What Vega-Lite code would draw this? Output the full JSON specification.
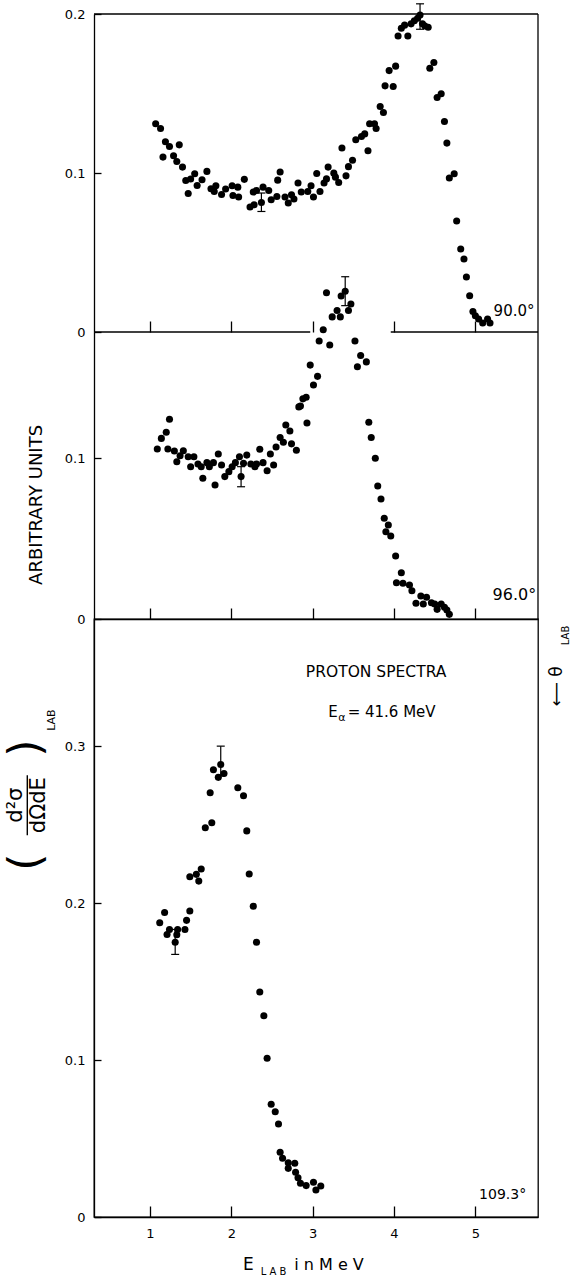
{
  "$schema": "https://vega.github.io/schema/vega-lite/v6.json",
  "background": "white",
  "padding": 0,
  "autosize": {"type": "pad"},
  "spacing": 0,
  "bounds": "flush",
  "config": {
    "view": {"stroke": null},
    "axis": {"grid": false, "domainColor": "black", "tickColor": "black", "labelColor": "black", "labelFont": "DejaVu Sans", "labelFontSize": 13, "labelFlush": false, "labelOverlap": false, "domainWidth": 1.3, "tickWidth": 1.3},
    "text": {"font": "DejaVu Sans", "color": "black"}
  },
  "datasets": {
    "one": [{}],
    "top": [
      {"E":1.07,"v":0.131},{"E":1.13,"v":0.128},{"E":1.16,"v":0.110},{"E":1.19,"v":0.1196},{"E":1.24,"v":0.1167},{"E":1.29,"v":0.1108},{"E":1.33,"v":0.1072},{"E":1.36,"v":0.1177},{"E":1.40,"v":0.1037},{"E":1.44,"v":0.0953},{"E":1.47,"v":0.0871},{"E":1.50,"v":0.0962},{"E":1.55,"v":0.0995},{"E":1.58,"v":0.0921},{"E":1.64,"v":0.0957},{"E":1.70,"v":0.101},{"E":1.75,"v":0.0901},{"E":1.79,"v":0.0884},{"E":1.81,"v":0.0920},{"E":1.88,"v":0.0865},{"E":1.93,"v":0.0899},{"E":2.01,"v":0.0920},{"E":2.02,"v":0.0859},{"E":2.08,"v":0.0911},{"E":2.09,"v":0.0849},{"E":2.16,"v":0.0960},{"E":2.23,"v":0.0786},{"E":2.27,"v":0.0880},{"E":2.28,"v":0.0800},{"E":2.31,"v":0.0890},{"E":2.37,"v":0.0815},{"E":2.39,"v":0.0911},{"E":2.46,"v":0.089},{"E":2.49,"v":0.0832},{"E":2.56,"v":0.0852},{"E":2.57,"v":0.0955},{"E":2.60,"v":0.1006},{"E":2.66,"v":0.0849},{"E":2.70,"v":0.0811},{"E":2.74,"v":0.0863},{"E":2.77,"v":0.0836},{"E":2.82,"v":0.0937},{"E":2.86,"v":0.088},{"E":2.94,"v":0.0884},{"E":2.98,"v":0.092},{"E":3.01,"v":0.0849},{"E":3.05,"v":0.0997},{"E":3.09,"v":0.0884},{"E":3.14,"v":0.0937},{"E":3.17,"v":0.0963},{"E":3.19,"v":0.1037},{"E":3.26,"v":0.0999},{"E":3.28,"v":0.0974},{"E":3.32,"v":0.094},{"E":3.36,"v":0.1157},{"E":3.41,"v":0.0982},{"E":3.44,"v":0.104},{"E":3.49,"v":0.108},{"E":3.53,"v":0.1209},{"E":3.60,"v":0.123},{"E":3.64,"v":0.1246},{"E":3.68,"v":0.114},{"E":3.70,"v":0.131},{"E":3.76,"v":0.131},{"E":3.78,"v":0.128},{"E":3.83,"v":0.1418},{"E":3.87,"v":0.138},{"E":3.89,"v":0.1548},{"E":3.94,"v":0.1644},{"E":3.99,"v":0.1544},{"E":4.02,"v":0.1672},{"E":4.05,"v":0.1862},{"E":4.09,"v":0.191},{"E":4.13,"v":0.193},{"E":4.17,"v":0.1862},{"E":4.21,"v":0.1938},{"E":4.25,"v":0.1958},{"E":4.29,"v":0.1973},{"E":4.32,"v":0.1994},{"E":4.35,"v":0.1938},{"E":4.38,"v":0.1925},{"E":4.42,"v":0.1917},{"E":4.44,"v":0.1659},{"E":4.49,"v":0.1695},{"E":4.53,"v":0.1475},{"E":4.58,"v":0.1498},{"E":4.62,"v":0.1324},{"E":4.65,"v":0.1188},{"E":4.68,"v":0.0968},{"E":4.74,"v":0.0995},{"E":4.77,"v":0.0698},{"E":4.82,"v":0.0522},{"E":4.86,"v":0.0459},{"E":4.89,"v":0.0346},{"E":4.93,"v":0.0228},{"E":4.97,"v":0.0129},{"E":5.00,"v":0.0102},{"E":5.04,"v":0.0082},{"E":5.09,"v":0.0057},{"E":5.15,"v":0.0082},{"E":5.18,"v":0.0057}
    ],
    "mid": [
      {"E":1.09,"v":0.1058},{"E":1.14,"v":0.1124},{"E":1.20,"v":0.1162},{"E":1.24,"v":0.1243},{"E":1.22,"v":0.1058},{"E":1.30,"v":0.1045},{"E":1.33,"v":0.0979},{"E":1.37,"v":0.1016},{"E":1.41,"v":0.1047},{"E":1.47,"v":0.101},{"E":1.50,"v":0.0948},{"E":1.54,"v":0.101},{"E":1.59,"v":0.0965},{"E":1.63,"v":0.0948},{"E":1.65,"v":0.0876},{"E":1.70,"v":0.0973},{"E":1.73,"v":0.0948},{"E":1.78,"v":0.0973},{"E":1.80,"v":0.0834},{"E":1.84,"v":0.1027},{"E":1.88,"v":0.0958},{"E":1.92,"v":0.0886},{"E":1.97,"v":0.0917},{"E":2.01,"v":0.0948},{"E":2.05,"v":0.0973},{"E":2.10,"v":0.101},{"E":2.12,"v":0.0886},{"E":2.15,"v":0.0969},{"E":2.19,"v":0.102},{"E":2.24,"v":0.0965},{"E":2.29,"v":0.0948},{"E":2.31,"v":0.0965},{"E":2.35,"v":0.1056},{"E":2.39,"v":0.0973},{"E":2.44,"v":0.0923},{"E":2.48,"v":0.1027},{"E":2.52,"v":0.0958},{"E":2.55,"v":0.107},{"E":2.60,"v":0.113},{"E":2.64,"v":0.110},{"E":2.67,"v":0.1207},{"E":2.72,"v":0.117},{"E":2.74,"v":0.109},{"E":2.80,"v":0.105},{"E":2.83,"v":0.132},{"E":2.85,"v":0.1325},{"E":2.88,"v":0.137},{"E":2.92,"v":0.138},{"E":2.93,"v":0.122},{"E":2.97,"v":0.158},{"E":3.01,"v":0.1456},{"E":3.06,"v":0.151},{"E":3.08,"v":0.173},{"E":3.13,"v":0.180},{"E":3.17,"v":0.203},{"E":3.21,"v":0.1705},{"E":3.24,"v":0.188},{"E":3.30,"v":0.192},{"E":3.34,"v":0.188},{"E":3.35,"v":0.201},{"E":3.40,"v":0.204},{"E":3.44,"v":0.192},{"E":3.47,"v":0.196},{"E":3.52,"v":0.173},{"E":3.55,"v":0.157},{"E":3.59,"v":0.164},{"E":3.66,"v":0.160},{"E":3.69,"v":0.1224},{"E":3.72,"v":0.113},{"E":3.77,"v":0.100},{"E":3.80,"v":0.0828},{"E":3.84,"v":0.0747},{"E":3.88,"v":0.0627},{"E":3.90,"v":0.0543},{"E":3.93,"v":0.0585},{"E":3.96,"v":0.0516},{"E":4.02,"v":0.0392},{"E":4.03,"v":0.0226},{"E":4.09,"v":0.0288},{"E":4.11,"v":0.0222},{"E":4.19,"v":0.0212},{"E":4.22,"v":0.0176},{"E":4.27,"v":0.0098},{"E":4.33,"v":0.0143},{"E":4.36,"v":0.0093},{"E":4.40,"v":0.0135},{"E":4.46,"v":0.0101},{"E":4.50,"v":0.0093},{"E":4.53,"v":0.006},{"E":4.58,"v":0.0093},{"E":4.62,"v":0.0073},{"E":4.65,"v":0.0056},{"E":4.68,"v":0.0029}
    ],
    "bot": [
      {"E":1.12,"v":0.1875},{"E":1.18,"v":0.194},{"E":1.21,"v":0.180},{"E":1.24,"v":0.1832},{"E":1.31,"v":0.175},{"E":1.33,"v":0.1798},{"E":1.34,"v":0.1832},{"E":1.43,"v":0.1832},{"E":1.45,"v":0.189},{"E":1.49,"v":0.195},{"E":1.49,"v":0.2168},{"E":1.57,"v":0.2183},{"E":1.60,"v":0.214},{"E":1.63,"v":0.2217},{"E":1.68,"v":0.248},{"E":1.74,"v":0.2703},{"E":1.76,"v":0.2512},{"E":1.78,"v":0.2849},{"E":1.84,"v":0.2801},{"E":1.87,"v":0.2883},{"E":1.91,"v":0.2826},{"E":2.08,"v":0.2735},{"E":2.15,"v":0.2684},{"E":2.19,"v":0.246},{"E":2.22,"v":0.2185},{"E":2.27,"v":0.198},{"E":2.31,"v":0.175},{"E":2.35,"v":0.1433},{"E":2.40,"v":0.1282},{"E":2.44,"v":0.1011},{"E":2.49,"v":0.0718},{"E":2.54,"v":0.0671},{"E":2.58,"v":0.0592},{"E":2.60,"v":0.0412},{"E":2.63,"v":0.0374},{"E":2.70,"v":0.0346},{"E":2.70,"v":0.031},{"E":2.78,"v":0.0342},{"E":2.79,"v":0.0285},{"E":2.82,"v":0.025},{"E":2.85,"v":0.0215},{"E":2.92,"v":0.020},{"E":3.01,"v":0.0221},{"E":3.04,"v":0.0172},{"E":3.10,"v":0.0197}
    ],
    "errTop": [{"E":4.32,"lo":0.1904,"hi":0.2064},{"E":2.37,"lo":0.0758,"hi":0.0874}],
    "errMid": [{"E":3.40,"lo":0.195,"hi":0.213},{"E":2.12,"lo":0.0823,"hi":0.0948}],
    "errBot": [{"E":1.31,"lo":0.1673,"hi":0.1832},{"E":1.87,"lo":0.281,"hi":0.300}]
  },
  "vconcat": [
    {
      "width": 444, "height": 318,
      "view": {"stroke": null},
      "layer": [
        {"data": {"name": "top"}, "mark": {"type": "circle", "size": 50, "color": "black", "opacity": 1},
         "encoding": {
           "x": {"field": "E", "type": "quantitative", "title": null, "scale": {"domain": [0.312, 5.77], "nice": false, "zero": false},
                 "axis": {"title": null, "orient": "bottom", "domain": false, "ticks": true, "tickSize": -11, "labels": false, "values": [1,2,3,4,5]}},
           "y": {"field": "v", "type": "quantitative", "title": null, "scale": {"domain": [0, 0.2], "nice": false, "zero": false},
                 "axis": {"title": null, "orient": "left", "domain": true, "tickSize": -7, "labelPadding": 16, "values": [0, 0.1, 0.2], "format": ".1~f"}}
         }},
        {"data": {"name": "errTop"}, "mark": {"type": "rule", "color": "black", "strokeWidth": 1.2},
         "encoding": {"x": {"field": "E", "type": "quantitative", "title": null}, "y": {"field": "lo", "type": "quantitative", "title": null}, "y2": {"field": "hi"}}},
        {"data": {"name": "errTop"}, "mark": {"type": "tick", "orient": "horizontal", "size": 8, "thickness": 1.2, "color": "black", "opacity": 1},
         "encoding": {"x": {"field": "E", "type": "quantitative", "title": null}, "y": {"field": "lo", "type": "quantitative", "title": null}}},
        {"data": {"name": "errTop"}, "mark": {"type": "tick", "orient": "horizontal", "size": 8, "thickness": 1.2, "color": "black", "opacity": 1},
         "encoding": {"x": {"field": "E", "type": "quantitative", "title": null}, "y": {"field": "hi", "type": "quantitative", "title": null}}},
        {"data": {"name": "one"}, "mark": {"type": "rule", "color": "black", "strokeWidth": 1.3}, "encoding": {"x": {"datum": 0.312}, "x2": {"datum": 5.77}, "y": {"datum": 0.2}}},
        {"data": {"name": "one"}, "mark": {"type": "rule", "color": "black", "strokeWidth": 1.3}, "encoding": {"x": {"datum": 5.77}, "y": {"datum": 0}, "y2": {"datum": 0.2}}},
        {"data": {"name": "one"}, "mark": {"type": "rule", "color": "black", "strokeWidth": 1.3}, "encoding": {"x": {"datum": 0.312}, "x2": {"datum": 2.97}, "y": {"datum": 0}}},
        {"data": {"name": "one"}, "mark": {"type": "rule", "color": "black", "strokeWidth": 1.3}, "encoding": {"x": {"datum": 3.96}, "x2": {"datum": 5.77}, "y": {"datum": 0}}},
        {"data": {"name": "one"}, "mark": {"type": "rule", "strokeOpacity": 0}, "encoding": {"x": {"datum": 1}, "y": {"datum": 0.2088}, "y2": {"datum": 0.2}}},
        {"data": {"name": "one"}, "mark": {"type": "text", "text": "90.0°", "fontSize": 15, "align": "right", "baseline": "middle"}, "encoding": {"x": {"datum": 5.727}, "y": {"datum": 0.0134}}}
      ]
    },
    {
      "width": 444, "height": 287,
      "view": {"stroke": null},
      "layer": [
        {"data": {"name": "mid"}, "mark": {"type": "circle", "size": 50, "color": "black", "opacity": 1, "clip": false},
         "encoding": {
           "x": {"field": "E", "type": "quantitative", "title": null, "scale": {"domain": [0.312, 5.77], "nice": false, "zero": false},
                 "axis": {"title": null, "orient": "bottom", "domain": true, "ticks": true, "tickSize": -11, "labels": false, "values": [1,2,3,4,5]}},
           "y": {"field": "v", "type": "quantitative", "title": null, "scale": {"domain": [0, 0.1786], "nice": false, "zero": false},
                 "axis": {"title": null, "orient": "left", "domain": true, "tickSize": -7, "labelPadding": 16, "values": [0, 0.1], "format": ".1~f"}}
         }},
        {"data": {"name": "errMid"}, "mark": {"type": "rule", "color": "black", "strokeWidth": 1.2},
         "encoding": {"x": {"field": "E", "type": "quantitative", "title": null}, "y": {"field": "lo", "type": "quantitative", "title": null}, "y2": {"field": "hi"}}},
        {"data": {"name": "errMid"}, "mark": {"type": "tick", "orient": "horizontal", "size": 8, "thickness": 1.2, "color": "black", "opacity": 1},
         "encoding": {"x": {"field": "E", "type": "quantitative", "title": null}, "y": {"field": "lo", "type": "quantitative", "title": null}}},
        {"data": {"name": "errMid"}, "mark": {"type": "tick", "orient": "horizontal", "size": 8, "thickness": 1.2, "color": "black", "opacity": 1},
         "encoding": {"x": {"field": "E", "type": "quantitative", "title": null}, "y": {"field": "hi", "type": "quantitative", "title": null}}},
        {"data": {"name": "one"}, "mark": {"type": "rule", "color": "black", "strokeWidth": 1.3}, "encoding": {"x": {"datum": 5.77}, "y": {"datum": 0}, "y2": {"datum": 0.1786}}},
        {"data": {"name": "one"}, "mark": {"type": "text", "text": "96.0°", "fontSize": 16, "align": "right", "baseline": "middle"}, "encoding": {"x": {"datum": 5.748}, "y": {"datum": 0.0149}}},
        {"data": {"name": "one"}, "mark": {"type": "text", "text": "ARBITRARY UNITS", "fontSize": 18, "angle": 270, "align": "center", "baseline": "middle"}, "encoding": {"x": {"datum": -0.39}, "y": {"datum": 0.071}}}
      ]
    },
    {
      "width": 444, "height": 598,
      "view": {"stroke": "black", "strokeWidth": 1.3},
      "layer": [
        {"data": {"name": "bot"}, "mark": {"type": "circle", "size": 50, "color": "black", "opacity": 1},
         "encoding": {
           "x": {"field": "E", "type": "quantitative", "title": null, "scale": {"domain": [0.312, 5.77], "nice": false, "zero": false},
                 "axis": {"title": null, "orient": "bottom", "domain": true, "ticks": true, "tickSize": -11, "labels": true, "labelPadding": 21, "values": [1,2,3,4,5], "format": "d"}},
           "y": {"field": "v", "type": "quantitative", "title": null, "scale": {"domain": [0, 0.381], "nice": false, "zero": false},
                 "axis": {"title": null, "orient": "left", "domain": true, "tickSize": -7, "labelPadding": 16, "values": [0, 0.1, 0.2, 0.3], "format": ".1~f"}}
         }},
        {"data": {"name": "errBot"}, "mark": {"type": "rule", "color": "black", "strokeWidth": 1.2},
         "encoding": {"x": {"field": "E", "type": "quantitative", "title": null}, "y": {"field": "lo", "type": "quantitative", "title": null}, "y2": {"field": "hi"}}},
        {"data": {"name": "errBot"}, "mark": {"type": "tick", "orient": "horizontal", "size": 8, "thickness": 1.2, "color": "black", "opacity": 1},
         "encoding": {"x": {"field": "E", "type": "quantitative", "title": null}, "y": {"field": "lo", "type": "quantitative", "title": null}}},
        {"data": {"name": "errBot"}, "mark": {"type": "tick", "orient": "horizontal", "size": 8, "thickness": 1.2, "color": "black", "opacity": 1},
         "encoding": {"x": {"field": "E", "type": "quantitative", "title": null}, "y": {"field": "hi", "type": "quantitative", "title": null}}},
        {"data": {"name": "one"}, "mark": {"type": "rule", "strokeOpacity": 0}, "encoding": {"x": {"datum": -0.827}, "y": {"datum": 0.1}, "y2": {"datum": 0.11}}},
        {"data": {"name": "one"}, "mark": {"type": "text", "text": "109.3°", "fontSize": 14, "align": "right", "baseline": "middle"}, "encoding": {"x": {"datum": 5.625}, "y": {"datum": 0.014}}},
        {"data": {"name": "one"}, "mark": {"type": "text", "text": "PROTON SPECTRA", "fontSize": 15.5, "align": "center", "baseline": "middle"}, "encoding": {"x": {"datum": 3.78}, "y": {"datum": 0.347}}},
        {"data": {"name": "one"}, "mark": {"type": "text", "text": "E", "fontSize": 15, "align": "center", "baseline": "middle"}, "encoding": {"x": {"datum": 3.25}, "y": {"datum": 0.3217}}},
        {"data": {"name": "one"}, "mark": {"type": "text", "text": "α", "fontSize": 11, "align": "center", "baseline": "middle"}, "encoding": {"x": {"datum": 3.36}, "y": {"datum": 0.3182}}},
        {"data": {"name": "one"}, "mark": {"type": "text", "text": "= 41.6 MeV", "fontSize": 15, "align": "left", "baseline": "middle"}, "encoding": {"x": {"datum": 3.43}, "y": {"datum": 0.3217}}},
        {"data": {"name": "one"}, "mark": {"type": "text", "text": "E", "fontSize": 17, "align": "center", "baseline": "middle"}, "encoding": {"x": {"datum": 2.21}, "y": {"datum": -0.0306}}},
        {"data": {"name": "one"}, "mark": {"type": "text", "text": "L A B", "fontSize": 10, "align": "center", "baseline": "middle"}, "encoding": {"x": {"datum": 2.52}, "y": {"datum": -0.0352}}},
        {"data": {"name": "one"}, "mark": {"type": "text", "text": "i n  M e V", "fontSize": 16, "align": "left", "baseline": "middle"}, "encoding": {"x": {"datum": 2.774}, "y": {"datum": -0.0306}}},
        {"data": {"name": "one"}, "mark": {"type": "text", "text": "d²σ", "fontSize": 21, "angle": 270, "align": "center", "baseline": "middle"}, "encoding": {"x": {"datum": -0.643}, "y": {"datum": 0.2624}}},
        {"data": {"name": "one"}, "mark": {"type": "text", "text": "dΩdE", "fontSize": 21, "angle": 270, "align": "center", "baseline": "middle"}, "encoding": {"x": {"datum": -0.36}, "y": {"datum": 0.2624}}},
        {"data": {"name": "one"}, "mark": {"type": "rule", "color": "black", "strokeWidth": 1.4}, "encoding": {"x": {"datum": -0.508}, "y": {"datum": 0.2433}, "y2": {"datum": 0.2815}}},
        {"data": {"name": "one"}, "mark": {"type": "text", "text": "(", "fontSize": 44, "angle": 270, "align": "center", "baseline": "middle"}, "encoding": {"x": {"datum": -0.508}, "y": {"datum": 0.2261}}},
        {"data": {"name": "one"}, "mark": {"type": "text", "text": ")", "fontSize": 44, "angle": 270, "align": "center", "baseline": "middle"}, "encoding": {"x": {"datum": -0.508}, "y": {"datum": 0.2987}}},
        {"data": {"name": "one"}, "mark": {"type": "text", "text": "LAB", "fontSize": 11, "angle": 270, "align": "center", "baseline": "middle"}, "encoding": {"x": {"datum": -0.2}, "y": {"datum": 0.3166}}},
        {"data": {"name": "one"}, "mark": {"type": "text", "text": "⟵ θ", "fontSize": 17, "angle": 270, "align": "center", "baseline": "middle"}, "encoding": {"x": {"datum": 6.006}, "y": {"datum": 0.338}}},
        {"data": {"name": "one"}, "mark": {"type": "text", "text": "LAB", "fontSize": 10, "angle": 270, "align": "center", "baseline": "middle"}, "encoding": {"x": {"datum": 6.11}, "y": {"datum": 0.3705}}}
      ]
    }
  ]
}
